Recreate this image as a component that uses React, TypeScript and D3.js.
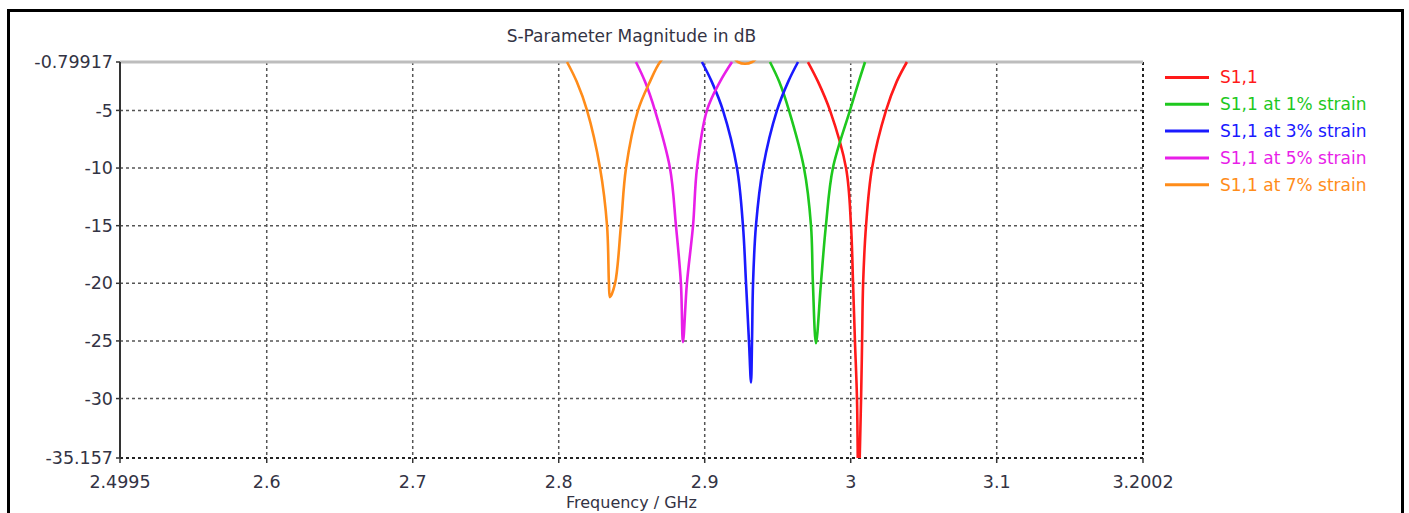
import React from 'react';
import { scaleLinear, line, curveCatmullRom } from 'd3';

const width = 1409;
const height = 513;

// axis ticks, as printed by the plotting tool
const xTicks = [2.4995, 2.6, 2.7, 2.8, 2.9, 3, 3.1, 3.2002];
const xTickLabels = ['2.4995', '2.6', '2.7', '2.8', '2.9', '3', '3.1', '3.2002'];
const yTicks = [-0.79917, -5, -10, -15, -20, -25, -30, -35.157];
const yTickLabels = ['-0.79917', '-5', '-10', '-15', '-20', '-25', '-30', '-35.157'];

const seriesNames = ['S1,1', 'S1,1 at 1% strain', 'S1,1 at 3% strain', 'S1,1 at 5% strain', 'S1,1 at 7% strain'];
const seriesColors = ['#ff1a1a', '#1ec81e', '#1a1aff', '#e81ee8', '#ff8c1a'];

// frequency (GHz) / magnitude (dB)
const s11Freq = [2.9707, 2.9776, 2.9858, 2.9968, 3.0002, 3.0016, 3.0029, 3.0043, 3.0053, 3.0071, 3.0078, 3.0085, 3.0105, 3.0146, 3.0242, 3.0315, 3.0385];
const s11dB = [-0.8, -2.5, -5, -10, -15, -20, -25, -30, -38, -30, -25, -20, -15, -10, -5, -2.5, -0.8];

const s11s1Freq = [2.9447, 2.951, 2.9577, 2.968, 2.9728, 2.9741, 2.9762, 2.9796, 2.983, 2.9878, 2.9995, 3.0055, 3.0098];
const s11s1dB = [-0.8, -2.5, -5, -10, -15, -20, -25.2, -20, -15, -10, -5, -2.5, -0.8];

const s11s3Freq = [2.8981, 2.9048, 2.9125, 2.9221, 2.9262, 2.9283, 2.9303, 2.9317, 2.9324, 2.9331, 2.9351, 2.9399, 2.9495, 2.9572, 2.9639];
const s11s3dB = [-0.8, -2.5, -5, -10, -15, -20, -25, -28.6, -25, -20, -15, -10, -5, -2.5, -0.8];

const s11s5Freq = [2.8529, 2.8591, 2.8659, 2.8762, 2.8803, 2.8837, 2.8851, 2.8878, 2.892, 2.8947, 2.9015, 2.9105, 2.9187];
const s11s5dB = [-0.8, -2.5, -5, -10, -15, -20, -25.1, -20, -15, -10, -5, -2.5, -0.8];

const s11s7Freq = [2.8057, 2.8123, 2.8194, 2.8283, 2.8331, 2.8344, 2.8351, 2.8386, 2.8426, 2.8461, 2.8543, 2.8625, 2.8694, 2.876, 2.916, 2.9228, 2.9276, 2.9324, 2.939];
const s11s7dB = [-0.8, -2.5, -5, -10, -15, -20, -21.2, -20, -15, -10, -5, -2.5, -0.8, 0, 0, -0.8, -0.95, -0.8, 0];

const seriesFreq = [s11Freq, s11s1Freq, s11s3Freq, s11s5Freq, s11s7Freq];
const seriesdB = [s11dB, s11s1dB, s11s3dB, s11s5dB, s11s7dB];

const margin = { left: 120, top: 62, right: 1143, bottom: 458 };
const font = '"DejaVu Sans", Verdana, sans-serif';
const textColor = '#333344';

const App = () => {
  const x = scaleLinear().domain([2.4995, 3.2002]).range([margin.left, margin.right]);
  const y = scaleLinear().domain([-35.157, -0.79917]).range([margin.bottom, margin.top]);

  const path = line<[number, number]>()
    .x(d => x(d[0]))
    .y(d => y(d[1]))
    .curve(curveCatmullRom.alpha(0.5));

  const midX = (margin.left + margin.right) / 2;

  return (
    <svg width={width} height={height} style={{ position: 'absolute', left: 0, top: 0, background: '#fff' }}
      fontFamily={font}>
      <defs>
        <clipPath id="plotClip">
          <rect x={margin.left} y={margin.top - 1.5} width={margin.right - margin.left} height={margin.bottom - margin.top + 1.5} />
        </clipPath>
      </defs>

      {/* outer frame */}
      <rect x={8.5} y={10.5} width={1394} height={540} fill="none" stroke="#000" strokeWidth={3} />

      <text x={midX} y={42} textAnchor="middle" fontSize={17} fill={textColor}>S-Parameter Magnitude in dB</text>

      {/* grid */}
      <g stroke="#555" strokeWidth={1.5} strokeDasharray="3,3">
        {yTicks.slice(1, -1).map(t => (
          <line key={'gy' + t} x1={margin.left} x2={margin.right} y1={y(t)} y2={y(t)} />
        ))}
        {xTicks.slice(1, -1).map(t => (
          <line key={'gx' + t} x1={x(t)} x2={x(t)} y1={margin.top} y2={margin.bottom} />
        ))}
        <line x1={margin.right} x2={margin.right} y1={margin.top} y2={margin.bottom} stroke="#222" strokeWidth={2} />
        <line x1={margin.left} x2={margin.right} y1={margin.bottom} y2={margin.bottom} stroke="#222" strokeWidth={2} />
      </g>
      <line x1={margin.left} x2={margin.right} y1={margin.top} y2={margin.top} stroke="#bdbdbd" strokeWidth={3} />
      <line x1={margin.left} x2={margin.left} y1={margin.top} y2={margin.bottom} stroke="#333" strokeWidth={2} />

      {/* y axis */}
      {yTicks.map((t, i) => (
        <g key={'yt' + t}>
          <line x1={margin.left - 4} x2={margin.left} y1={y(t)} y2={y(t)} stroke="#333" strokeWidth={1.5} />
          <text x={margin.left - 7} y={y(t)} dy="0.35em" textAnchor="end" fontSize={17.5} fill={textColor}>{yTickLabels[i]}</text>
        </g>
      ))}

      {/* x axis */}
      {xTicks.map((t, i) => (
        <g key={'xt' + t}>
          <line x1={x(t)} x2={x(t)} y1={margin.bottom} y2={margin.bottom + 5} stroke="#333" strokeWidth={1.5} />
          <text x={x(t)} y={488} textAnchor="middle" fontSize={17.5} fill={textColor}>{xTickLabels[i]}</text>
        </g>
      ))}
      <text x={midX} y={508} textAnchor="middle" fontSize={16} fill={textColor}>Frequency / GHz</text>

      {/* curves */}
      <g clipPath="url(#plotClip)" fill="none" strokeWidth={2.6} strokeLinejoin="round">
        {seriesFreq.map((fr, i) => (
          <path key={seriesNames[i]} d={path(fr.map((f, j) => [f, seriesdB[i][j]] as [number, number])) || ''}
            stroke={seriesColors[i]} />
        ))}
      </g>

      {/* legend */}
      {seriesNames.map((name, i) => (
        <g key={'lg' + name} transform={`translate(1165, ${77.5 + i * 26.8})`}>
          <line x1={0} x2={44} y1={0} y2={0} stroke={seriesColors[i]} strokeWidth={3} />
          <text x={55} y={0} dy="0.35em" fontSize={17} fill={seriesColors[i]}>{name}</text>
        </g>
      ))}
    </svg>
  );
};

export default App;
